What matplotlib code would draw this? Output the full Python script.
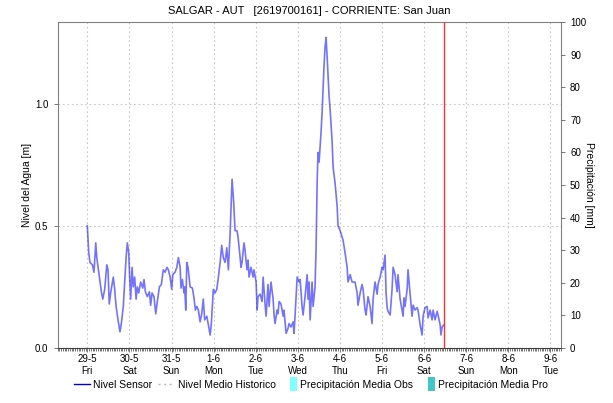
import matplotlib
matplotlib.use("Agg")
import matplotlib.pyplot as plt
import matplotlib.dates as mdates
import matplotlib.patches as mpatches
from matplotlib.lines import Line2D
from matplotlib.legend_handler import HandlerPatch
from matplotlib.ticker import FuncFormatter
import pandas as pd

plt.rcParams['font.family'] = ['Liberation Sans', 'DejaVu Sans']

titulo = "SALGAR - AUT   [2619700161] - CORRIENTE: San Juan"
inicio = pd.Timestamp("2020-05-29 00:00")
hora_actual = 203.4  # hours after inicio

# Sensor level readings: hours after inicio, level in metres
horas = [
    0.0, 0.8, 1.5, 2.9, 3.8, 4.8, 5.4, 6.7, 8.0, 8.8, 9.9, 11.1, 11.8, 12.5,
    13.3, 14.8, 15.6, 16.4, 17.5, 18.6, 19.4, 20.5, 21.3, 22.1, 22.8, 23.6,
    24.2, 24.7, 25.5, 26.2, 27.0, 27.8, 28.5, 29.3, 30.4, 31.6, 32.3, 33.1,
    34.2, 35.4, 36.1, 36.9, 38.0, 39.0, 39.9, 41.1, 42.2, 43.3,
    44.3, 45.4, 46.2, 47.2, 48.1, 48.7, 50.0, 51.0, 51.9, 52.9, 53.4, 54.2,
    55.1, 55.5, 56.1, 56.7, 57.4, 58.6, 59.9, 60.8, 61.6, 62.4, 63.3, 64.3,
    65.2, 66.1, 66.9, 68.1, 69.0, 70.0, 70.7, 71.8, 72.8, 73.8, 74.7, 75.7,
    76.6, 77.5, 78.5, 79.5, 80.4, 81.4, 81.9, 82.5, 83.4, 84.2, 85.3, 85.9,
    87.1, 87.6, 88.2, 89.3, 89.9, 91.0, 91.6, 92.2, 93.3, 94.5, 95.0, 96.2,
    96.8, 97.3, 98.5, 99.6, 100.2, 101.3, 101.9, 103.0, 103.6, 104.7, 105.9,
    106.4, 107.0, 108.2, 108.7, 109.3, 110.4, 111.6, 112.1, 113.3, 114.4,
    115.0, 116.1, 117.3, 117.8, 118.4, 119.6, 120.7, 121.3, 122.4, 123.0,
    124.1, 125.3, 125.8, 126.4, 127.0, 128.1, 128.7, 129.8, 130.4, 131.0,
    131.5, 132.1, 133.2, 133.8, 134.4, 134.9, 135.5, 136.1, 136.7, 137.8,
    138.4, 139.5, 140.1, 141.2, 142.4, 142.9, 144.1, 145.2, 145.8, 146.9,
    148.1, 148.6, 149.8, 150.9, 152.6, 153.8, 154.3, 155.5, 156.6, 157.2,
    158.3, 158.9, 160.0, 161.2, 162.3, 162.9, 164.0, 165.2, 165.7, 166.9,
    168.0, 168.6, 169.7, 170.3, 170.9, 171.4, 172.6, 173.7, 174.3, 175.4,
    176.6, 177.1, 178.3, 179.4, 180.0, 180.5, 181.1, 182.3, 182.8, 184.0,
    185.1, 185.7, 186.8, 188.0, 188.5, 189.7, 190.8, 191.4, 192.5, 193.7,
    194.2, 195.4, 196.5, 197.1, 198.2, 199.4, 199.9, 201.1, 201.6, 202.2,
    203.3,
]
nivel = [
    0.50, 0.39, 0.35, 0.34, 0.31, 0.43, 0.37, 0.30, 0.23, 0.20, 0.24, 0.34,
    0.32, 0.18, 0.225, 0.29, 0.24, 0.17, 0.115, 0.066, 0.10, 0.17, 0.27,
    0.37, 0.43, 0.39, 0.28, 0.20, 0.33, 0.25, 0.29, 0.20, 0.25, 0.225, 0.27,
    0.245, 0.28, 0.23, 0.21, 0.23, 0.175, 0.225, 0.21, 0.14, 0.19, 0.25,
    0.26, 0.32,
    0.31, 0.33, 0.32, 0.29, 0.24, 0.30, 0.31, 0.33, 0.37, 0.33, 0.245, 0.28,
    0.225, 0.25, 0.155, 0.35, 0.33, 0.25, 0.245, 0.205, 0.155, 0.17, 0.155,
    0.107, 0.14, 0.20, 0.115, 0.13, 0.095, 0.053, 0.10, 0.24, 0.225, 0.24,
    0.29, 0.35, 0.42, 0.37, 0.35, 0.41, 0.32, 0.47, 0.57, 0.69, 0.60, 0.48,
    0.48, 0.455, 0.37, 0.33, 0.35, 0.43, 0.40, 0.32, 0.36, 0.29, 0.33, 0.29,
    0.32, 0.27, 0.155, 0.21, 0.22, 0.19, 0.29, 0.18, 0.13, 0.26, 0.17, 0.27,
    0.20, 0.14, 0.10, 0.155, 0.14, 0.19, 0.18, 0.13, 0.155, 0.06, 0.08,
    0.10, 0.086, 0.107, 0.06, 0.13, 0.29, 0.27, 0.28, 0.17, 0.135, 0.21,
    0.30, 0.20, 0.27, 0.115, 0.27, 0.17, 0.25, 0.41, 0.68, 0.80, 0.76, 0.88,
    0.96, 1.06, 1.15, 1.23, 1.27, 1.19, 1.03, 0.975, 0.85, 0.74, 0.675,
    0.58, 0.50, 0.48, 0.455, 0.44, 0.39, 0.33, 0.27, 0.30, 0.27, 0.27,
    0.225, 0.175, 0.225, 0.26, 0.24, 0.155, 0.135, 0.21, 0.17, 0.10, 0.20,
    0.27, 0.22, 0.26, 0.29, 0.33, 0.32, 0.38, 0.225, 0.165, 0.15, 0.135,
    0.24, 0.33, 0.30, 0.23, 0.30, 0.20, 0.155, 0.13, 0.205, 0.17, 0.24,
    0.32, 0.22, 0.13, 0.175, 0.155, 0.165, 0.155, 0.095, 0.053, 0.13, 0.165,
    0.17, 0.123, 0.155, 0.115, 0.155, 0.115, 0.15, 0.135, 0.095, 0.053,
    0.086, 0.095,
]

eje_inicio = pd.Timestamp("2020-05-28 07:00")
eje_fin = pd.Timestamp("2020-06-09 06:00")

tiempos = inicio + pd.to_timedelta(horas, unit="h")
ahora = inicio + pd.Timedelta(hours=hora_actual)

W, H = 613, 403
fig = plt.figure(figsize=(W / 100, H / 100), dpi=100)
ax = fig.add_axes([57.5 / W, 1 - 348 / H, (561 - 57.5) / W, (348 - 22) / H])

grid_kw = dict(color="#c8c8c8", lw=0.8, linestyle=(0, (1.5, 2.5)))

ax.plot(tiempos, nivel, color=(0.0, 0.0, 1.0, 0.55), lw=1.2, zorder=3)
ax.axvline(ahora, color="#ff3030", lw=1.0, zorder=4)

ax.set_xlim(eje_inicio, eje_fin)
ax.set_ylim(0, max(nivel) * 1.05)
ax.set_yticks([0.0, 0.5, 1.0])
ax.yaxis.set_major_formatter(FuncFormatter(lambda v, p: f"{v:.1f}"))
ax.set_ylabel("Nivel del Agua [m]", fontsize=7.5, labelpad=2)

ax.xaxis.set_major_locator(mdates.DayLocator())
ax.xaxis.set_minor_locator(mdates.HourLocator(interval=1))


def etiqueta_dia(x, pos):
    d = mdates.num2date(x)
    return f"{d.day}-{d.month}\n{d.strftime('%a')}"


ax.xaxis.set_major_formatter(FuncFormatter(etiqueta_dia))
ax.grid(True, which="major", axis="both", **grid_kw)
ax.set_axisbelow(True)

ax.tick_params(axis="x", which="major", length=3, width=0.6, labelsize=7,
               pad=1.5, colors="#606060", labelcolor="black")
ax.tick_params(axis="x", which="minor", length=2, width=0.5, colors="#404040")
ax.tick_params(axis="y", length=3, width=0.6, labelsize=7, colors="#606060",
               labelcolor="black")
for s in ax.spines.values():
    s.set_color("#808080")
    s.set_linewidth(0.8)
ax.spines["bottom"].set_color("#404040")

ax2 = ax.twinx()
ax2.set_ylim(0, 100)
ax2.set_yticks(range(0, 101, 10))
ax2.tick_params(axis="y", length=3, width=0.6, labelsize=7, colors="#606060",
                labelcolor="black")
ax2.set_ylabel("Precipitación [mm]", fontsize=7.5, rotation=270, labelpad=6)
for s in ax2.spines.values():
    s.set_visible(False)

fig.text(0.5 * (57.5 + 561) / W, 1 - 11 / H, titulo, ha="center", va="center",
         fontsize=8)


class RectanguloAngosto(HandlerPatch):
    def create_artists(self, legend, orig_handle, xdescent, ydescent, width,
                       height, fontsize, trans):
        r = mpatches.Rectangle((-xdescent + width - 5, -ydescent - 2.5), 4.5,
                               height + 5, facecolor=orig_handle.get_facecolor(),
                               edgecolor="none", transform=trans)
        return [r]


handles = [
    Line2D([], [], color="#0000cc", lw=1.0),
    Line2D([], [], color="#b8b8b8", lw=1.0, linestyle=(0, (1.5, 2.5))),
    mpatches.Patch(facecolor="#80ffff"),
    mpatches.Patch(facecolor="#40c8c8"),
]
labels = ["Nivel Sensor", "Nivel Medio Historico", "Precipitación Media Obs",
          "Precipitación Media Pro"]
fig.legend(handles, labels, loc="center", bbox_to_anchor=(311 / W, 1 - 385 / H),
           ncol=4, frameon=False, fontsize=7.5, handlelength=1.6,
           handletextpad=0.3, columnspacing=0.5,
           handler_map={mpatches.Patch: RectanguloAngosto()})

fig.savefig("out.png", dpi=100)
